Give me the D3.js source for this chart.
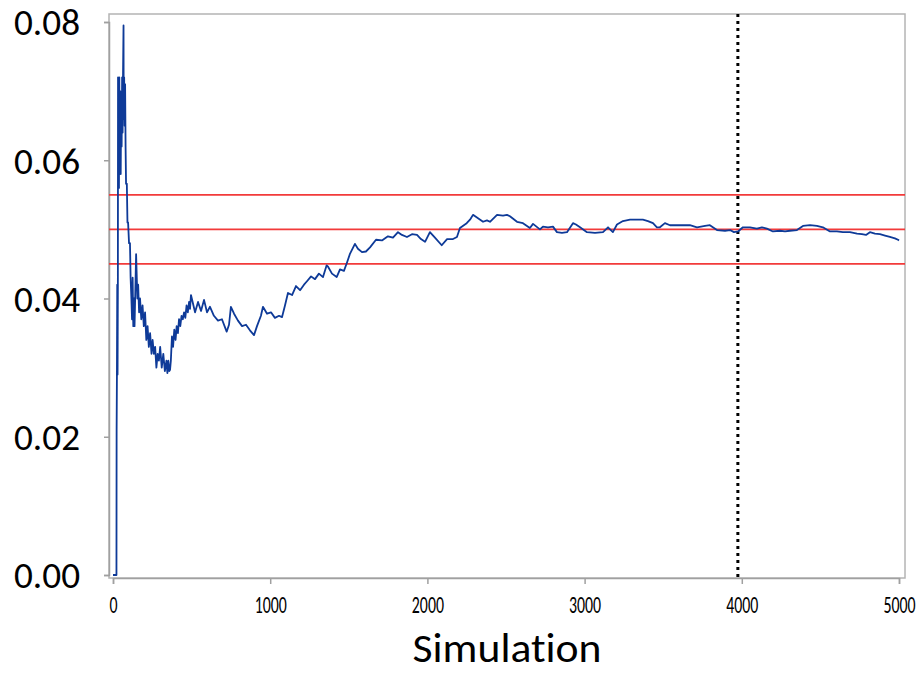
<!DOCTYPE html>
<html>
<head>
<meta charset="utf-8">
<script src="https://cdn.jsdelivr.net/npm/d3@7"></script>
<style>
  html, body { margin: 0; padding: 0; background: #fff; }
  svg { display: block; }
  text { font-family: Carlito, Lato, "Open Sans", sans-serif; fill: #000; font-variant-ligatures: none; font-feature-settings: "liga" 0; }
</style>
</head>
<body>
<svg id="chart" width="919" height="673"></svg>
<script>
// ---- data ----
const simulation = [0,22,23,25,27,29,31,32,34,36,38,40,43,46,49,52,55,58,61,64,67,68,71,74,77,80,83,88,92,96,102,108,112,117,121,125,129,134,137,141,147,150,155,160,166,172,180,188,196,204,212,220,228,236,245,252,260,268,276,284,292,300,310,320,330,340,346,352,358,363,368,375,382,390,398,405,413,420,428,436,444,452,460,468,476,484,490,496,522,541,560,579,598,617,642,668,693,723,738,750,770,795,821,846,871,897,916,941,954,980,1005,1030,1056,1075,1094,1113,1139,1164,1190,1215,1234,1260,1285,1310,1336,1359,1368,1393,1423,1444,1469,1487,1508,1539,1558,1584,1609,1635,1673,1711,1749,1781,1813,1838,1870,1902,1934,1959,1985,2016,2048,2091,2125,2163,2188,2207,2250,2271,2290,2322,2354,2379,2398,2443,2481,2506,2525,2570,2608,2652,2672,2716,2735,2767,2799,2824,2856,2888,2926,2945,2971,3015,3066,3117,3149,3180,3206,3244,3289,3333,3371,3403,3435,3460,3479,3511,3543,3581,3626,3670,3715,3766,3797,3842,3893,3925,3950,3976,4007,4052,4096,4128,4160,4198,4243,4275,4306,4351,4389,4434,4478,4516,4561,4605,4643,4688,4733,4764,4790,4815,4847,4879,4911,4942,4974,4994,5000];
const proportion = [0,0,0.021,0.029,0.042,0.029,0.042,0.072,0.056,0.071,0.056,0.072,0.059,0.070,0.058,0.069,0.062,0.072,0.064,0.073,0.0795,0.066,0.072,0.065,0.071,0.062,0.0566,0.0566,0.051,0.051,0.048,0.048,0.043,0.040,0.037,0.043,0.036,0.040,0.036,0.040,0.0464,0.044,0.040,0.042,0.038,0.040,0.037,0.039,0.036,0.038,0.034,0.036,0.033,0.035,0.032,0.034,0.032,0.033,0.030,0.032,0.031,0.033,0.030,0.032,0.0295,0.031,0.0292,0.031,0.0295,0.0297,0.031,0.0345,0.033,0.0355,0.034,0.036,0.035,0.037,0.036,0.0375,0.037,0.038,0.0372,0.039,0.038,0.0395,0.0385,0.0405,0.038,0.0395,0.0382,0.0398,0.038,0.0388,0.0375,0.0368,0.037,0.0352,0.0362,0.0388,0.0378,0.0368,0.036,0.0362,0.0354,0.0347,0.036,0.0375,0.0388,0.0378,0.038,0.0372,0.0375,0.0373,0.039,0.0408,0.0405,0.0418,0.0412,0.042,0.0425,0.0432,0.0428,0.0436,0.0431,0.0448,0.0446,0.0436,0.0431,0.0442,0.0440,0.0451,0.0465,0.0479,0.0472,0.0467,0.0468,0.0474,0.0485,0.0484,0.0490,0.0488,0.0496,0.0492,0.0489,0.0493,0.0492,0.0486,0.0482,0.0496,0.0488,0.0477,0.0486,0.0486,0.0489,0.0502,0.0509,0.0514,0.0521,0.0516,0.0511,0.0513,0.0511,0.0521,0.0520,0.0521,0.0519,0.0511,0.0509,0.0502,0.0508,0.0500,0.0504,0.0503,0.0504,0.0496,0.0495,0.0496,0.0509,0.0507,0.0503,0.0496,0.0495,0.0496,0.0503,0.0496,0.0507,0.0512,0.0514,0.0514,0.0514,0.0512,0.0509,0.0503,0.0503,0.0509,0.0506,0.0506,0.0506,0.0506,0.0503,0.0505,0.0506,0.0499,0.0498,0.0499,0.0496,0.0497,0.0503,0.0503,0.0501,0.0503,0.0501,0.0497,0.0498,0.0497,0.0498,0.0499,0.0505,0.0506,0.0505,0.0503,0.0497,0.0497,0.0496,0.0496,0.0494,0.0493,0.0492,0.0496,0.0494,0.0493,0.0491,0.0489,0.0487,0.0485,0.0484];
const referenceLines = [0.055, 0.05, 0.045];
const cutoffSimulation = [3975];
const xTicks = [0, 1000, 2000, 3000, 4000, 5000];
const yTicks = [0, 0.02, 0.04, 0.06, 0.08];
const xTitle = "Simulation";

// ---- drawing ----
const svg = d3.select("#chart");
const box = {left: 109, top: 14, right: 905, bottom: 578};
const x = d3.scaleLinear().domain([0, 5000]).range([113, 899]);
const y = d3.scaleLinear().domain([0, 0.08]).range([575, 22]);

const points = simulation.map((s, i) => [s, proportion[i]]);

// plot border
svg.append("rect")
  .attr("x", box.left).attr("y", box.top)
  .attr("width", box.right - box.left).attr("height", box.bottom - box.top)
  .attr("fill", "none").attr("stroke", "#b4b4b4").attr("stroke-width", 1.5);

// y axis
const yAxis = svg.append("g")
  .attr("transform", `translate(${box.left},0)`)
  .call(d3.axisLeft(y).tickValues(yTicks).tickFormat(d3.format(".2f")).tickSize(5).tickPadding(24));
yAxis.select(".domain").attr("stroke", "#a0a0a0").attr("stroke-width", 1.5);
yAxis.selectAll(".tick line").attr("stroke", "#a0a0a0").attr("stroke-width", 1.5);
yAxis.selectAll(".tick text")
  .attr("font-size", 36).attr("fill", "#000")
  .attr("dy", "0.36em")
  .attr("textLength", 66).attr("lengthAdjust", "spacingAndGlyphs");

// x axis
const xAxis = svg.append("g")
  .attr("transform", `translate(0,${box.bottom})`)
  .call(d3.axisBottom(x).tickValues(xTicks).tickFormat(d3.format("d")).tickSize(6).tickPadding(12));
xAxis.select(".domain").attr("stroke", "#a0a0a0").attr("stroke-width", 1.5);
xAxis.selectAll(".tick line").attr("stroke", "#a0a0a0").attr("stroke-width", 1.5);
xAxis.selectAll(".tick text")
  .attr("font-size", 24).attr("fill", "#000")
  .attr("transform", "scale(0.66,1)");

// reference lines
svg.append("g").selectAll("line").data(referenceLines).join("line")
  .attr("x1", box.left).attr("x2", box.right)
  .attr("y1", d => y(d)).attr("y2", d => y(d))
  .attr("stroke", "#f23a3a").attr("stroke-width", 1.8);

// cutoff dotted line
svg.append("g").selectAll("line").data(cutoffSimulation).join("line")
  .attr("x1", d => x(d)).attr("x2", d => x(d))
  .attr("y1", box.top).attr("y2", box.bottom)
  .attr("stroke", "#000").attr("stroke-width", 3)
  .attr("stroke-dasharray", "3,4");

// running proportion line
svg.append("path")
  .datum(points)
  .attr("fill", "none")
  .attr("stroke", "#0e3a98")
  .attr("stroke-width", 1.8)
  .attr("stroke-linejoin", "round")
  .attr("d", d3.line().x(d => x(d[0])).y(d => y(d[1])));

// axis title
svg.append("text")
  .attr("x", 507).attr("y", 662)
  .attr("text-anchor", "middle")
  .attr("font-size", 41)
  .attr("textLength", 189).attr("lengthAdjust", "spacingAndGlyphs")
  .text(xTitle);
</script>
</body>
</html>
